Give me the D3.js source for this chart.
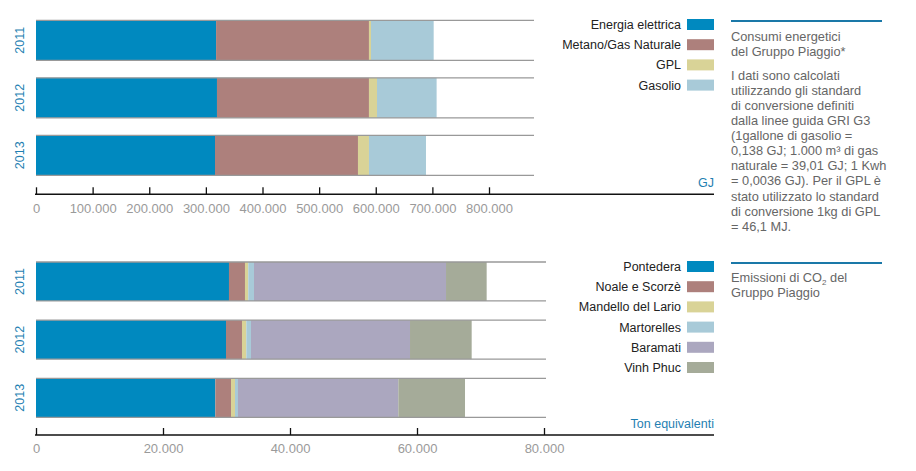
<!DOCTYPE html>
<html><head><meta charset="utf-8">
<script src="https://cdn.jsdelivr.net/npm/d3@7"></script>
<style>
body{margin:0;background:#fff;}
svg{display:block;font-family:"Liberation Sans",Arial,Helvetica,sans-serif;}
</style></head>
<body><svg id="c" width="916" height="471"></svg>
<script>
const years = ["2011","2012","2013"];
const energyKeys = ["Energia elettrica","Metano/Gas Naturale","GPL","Gasolio"];
const energyColors = ["#0089bf","#ad807c","#d9d397","#a8cad8"];
const energyElettrica = [318000,319600,316100];
const energyMetano = [270000,268400,252500];
const energyGPL = [3600,14200,19400];
const energyGasolio = [110700,105300,100700];
const energyTicks = [0,100000,200000,300000,400000,500000,600000,700000,800000];

const co2Keys = ["Pontedera","Noale e Scorzè","Mandello del Lario","Martorelles","Baramati","Vinh Phuc"];
const co2Colors = ["#0089bf","#ad807c","#d9d397","#a8cad8","#aba7bf","#a5ab99"];
const co2Pontedera = [30390,29920,28240];
const co2Noale = [2520,2520,2470];
const co2Mandello = [520,680,630];
const co2Martorelles = [900,740,470];
const co2Baramati = [30240,25040,25250];
const co2VinhPhuc = [6400,9710,10500];
const co2Ticks = [0,20000,40000,60000,80000];

const noteEnergy = ["Consumi energetici","del Gruppo Piaggio*"];
const noteEnergy2 = ["I dati sono calcolati","utilizzando gli standard","di conversione definiti","dalla linee guida GRI G3","(1gallone di gasolio =","0,138 GJ; 1.000 m³ di gas","naturale = 39,01 GJ; 1 Kwh","= 0,0036 GJ). Per il GPL è","stato utilizzato lo standard","di conversione 1kg di GPL","= 46,1 MJ."];

const loc = d3.formatLocale({decimal:",",thousands:".",grouping:[3],currency:["","€"]});
const fmt = loc.format(",d");
const svg = d3.select("#c");

function chart(opt){
  const rows = years.map((y,i)=>{const r={year:y}; opt.keys.forEach((k,j)=>r[k]=opt.series[j][i]); return r;});
  const stack = d3.stack().keys(opt.keys)(rows);
  const x = d3.scaleLinear().domain(opt.domain).range(opt.xr);
  const y = d3.scaleBand().domain(years).range(opt.yr).paddingInner(opt.pad).paddingOuter(0);
  const g = svg.append("g");
  const color = d3.scaleOrdinal().domain(opt.keys).range(opt.colors);
  stack.forEach(s=>{
    g.selectAll(null).data(s).enter().append("rect")
      .attr("x",d=>x(d[0])).attr("width",d=>x(d[1])-x(d[0]))
      .attr("y",d=>y(d.data.year)).attr("height",y.bandwidth())
      .attr("fill",color(s.key));
  });
  years.forEach(yr=>{
    [y(yr), y(yr)+y.bandwidth()].forEach(yy=>{
      g.append("line").attr("x1",opt.xr[0]).attr("x2",opt.gridEnd).attr("y1",yy).attr("y2",yy)
        .attr("stroke","#999").attr("stroke-width",1.3);
    });
    g.append("text").attr("transform",`translate(${opt.yearX},${y(yr)+y.bandwidth()/2}) rotate(-90)`)
      .attr("text-anchor","middle").attr("dy","0.35em").attr("fill","#1f7fb2")
      .attr("font-size",12.5).text(yr);
  });
  const ax = g.append("g").attr("transform",`translate(0,${opt.axisY})`)
    .call(d3.axisBottom(x).tickValues(opt.ticks).tickFormat(fmt).tickSize(-7).tickPadding(9));
  ax.select(".domain").remove();
  ax.selectAll(".tick line").attr("stroke","#111").attr("stroke-width",1.3);
  ax.selectAll(".tick text").attr("fill","#9a9a9a").attr("font-size",13).attr("font-family","Liberation Sans, Arial, sans-serif");
  g.append("line").attr("x1",opt.xr[0]-1).attr("x2",714).attr("y1",opt.axisY).attr("y2",opt.axisY)
    .attr("stroke","#111").attr("stroke-width",1.6);
  g.append("text").attr("x",714).attr("y",opt.unitY).attr("text-anchor","end")
    .attr("fill","#1f7fb2").attr("font-size",12.5).text(opt.unit);
  // legend
  const lg = g.selectAll(null).data(opt.keys).enter().append("g")
    .attr("transform",(d,i)=>`translate(0,${opt.legY+i*opt.legStep})`);
  lg.append("rect").attr("x",687).attr("y",-5.5).attr("width",27).attr("height",11).attr("fill",d=>color(d));
  lg.append("text").attr("x",681).attr("dy","0.36em").attr("text-anchor","end")
    .attr("fill","#222").attr("font-size",12.5).text(d=>d);
}

chart({keys:energyKeys,colors:energyColors,series:[energyElettrica,energyMetano,energyGPL,energyGasolio],
  domain:[0,800000],xr:[36,489],yr:[20.3,175.3],pad:0.304,gridEnd:534,yearX:20,axisY:194.3,ticks:energyTicks,
  unit:"GJ",unitY:187,legY:24.5,legStep:20.2});
chart({keys:co2Keys,colors:co2Colors,series:[co2Pontedera,co2Noale,co2Mandello,co2Martorelles,co2Baramati,co2VinhPhuc],
  domain:[0,80000],xr:[36,544],yr:[262,417.3],pad:0.33,gridEnd:546,yearX:20,axisY:435,ticks:co2Ticks,
  unit:"Ton equivalenti",unitY:428,legY:266.5,legStep:20.2});

// side notes
svg.append("line").attr("x1",731).attr("x2",882).attr("y1",21).attr("y2",21).attr("stroke","#1a78a8").attr("stroke-width",2);
svg.append("line").attr("x1",731).attr("x2",882).attr("y1",263).attr("y2",263).attr("stroke","#1a78a8").attr("stroke-width",2);
const n1 = svg.append("text").attr("fill","#666").attr("font-size",12.8);
noteEnergy.forEach((t,i)=>n1.append("tspan").attr("x",731).attr("y",40.5+i*15.6).text(t));
const n2 = svg.append("text").attr("fill","#666").attr("font-size",12.8);
noteEnergy2.forEach((t,i)=>n2.append("tspan").attr("x",731).attr("y",79.5+i*15.13).text(t));
const n3 = svg.append("text").attr("fill","#666").attr("font-size",12.8);
const t1 = n3.append("tspan").attr("x",731).attr("y",282).text("Emissioni di CO");
t1.append("tspan").attr("font-size",8).attr("dy",3).text("2");
t1.append("tspan").attr("dy",-3).text(" del");
n3.append("tspan").attr("x",731).attr("y",296.7).text("Gruppo Piaggio");
</script></body></html>
